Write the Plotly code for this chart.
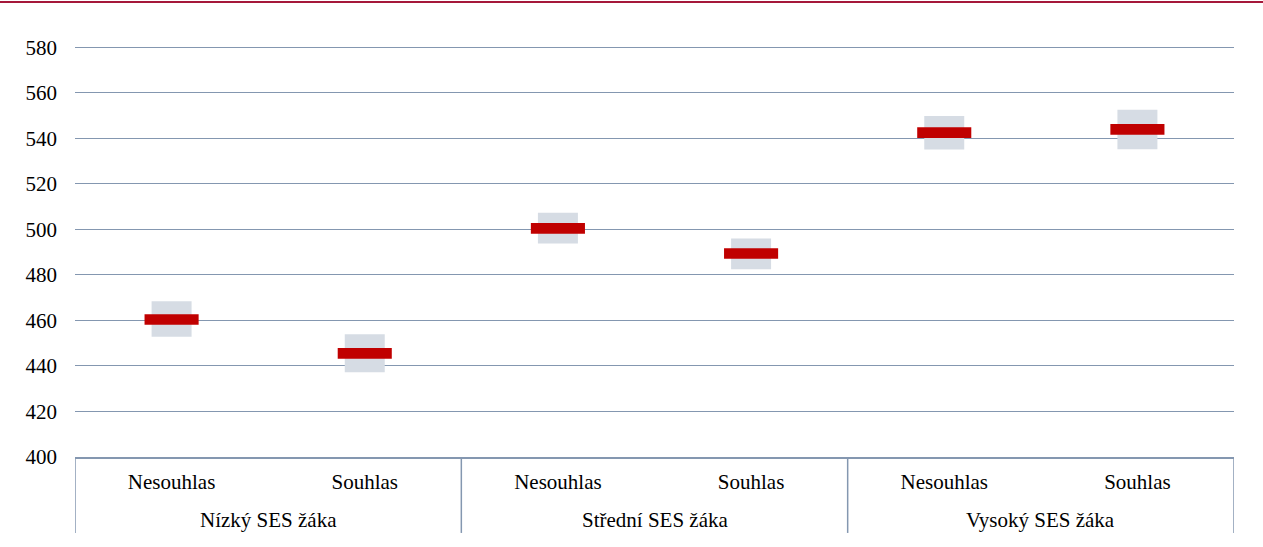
import plotly.graph_objects as go

groups = ["Nízký SES žáka", "Střední SES žáka", "Vysoký SES žáka"]
answers = ["Nesouhlas", "Souhlas", "Nesouhlas", "Souhlas", "Nesouhlas", "Souhlas"]
mean = [460.4, 445.5, 500.4, 489.4, 542.5, 543.9]
ci_low = [452.8, 437.2, 493.8, 482.5, 535.1, 535.2]
ci_high = [468.4, 453.9, 507.3, 496.0, 549.8, 552.6]
y_ticks = [400, 420, 440, 460, 480, 500, 520, 540, 560, 580]

grid_col = "#8497b0"
font_family = "Liberation Serif"
font_size = 21
mark_thick = 4.7

xpos = list(range(len(answers)))
n_sub = len(answers) // len(groups)

fig = go.Figure()
fig.add_trace(go.Bar(
    x=xpos,
    y=[h - l for h, l in zip(ci_high, ci_low)],
    base=ci_low,
    width=0.207,
    marker=dict(color="#d6dce4", line=dict(width=0)),
    hoverinfo="skip",
    showlegend=False,
))
fig.add_trace(go.Bar(
    x=xpos,
    y=[mark_thick] * len(mean),
    base=[m - mark_thick / 2 for m in mean],
    width=0.28,
    marker=dict(color="#c00000", line=dict(width=0)),
    customdata=mean,
    hovertemplate="%{customdata}<extra></extra>",
    showlegend=False,
))

y_top = 581
plot_h = 410.0 + (y_top - 580) * 410.0 / 180
top_px = 47 - (y_top - 580) * 410.0 / 180

shapes = [dict(type="line", xref="paper", yref="paper",
               x0=-75 / 1159, x1=1 + 29 / 1159,
               y0=1 + (top_px - 1.8) / plot_h, y1=1 + (top_px - 1.8) / plot_h,
               line=dict(color="#a5183a", width=2))]
for k in range(len(groups) + 1):
    xd = k * n_sub - 0.5
    shapes.append(dict(type="line", xref="x", yref="paper",
                       x0=xd, x1=xd, y0=0, y1=-76 / plot_h,
                       line=dict(color=grid_col, width=1.5)))

annotations = []
for gi, g in enumerate(groups):
    annotations.append(dict(xref="x", yref="paper",
                            x=gi * n_sub + (n_sub - 1) / 2, y=-63 / plot_h,
                            text=g, showarrow=False, yanchor="middle",
                            font=dict(family=font_family, size=font_size, color="#000000")))

fig.update_layout(
    width=1263, height=547,
    margin=dict(l=75, r=29, t=top_px, b=90),
    barmode="overlay",
    plot_bgcolor="white",
    paper_bgcolor="white",
    font=dict(family=font_family, size=font_size, color="#000000"),
    shapes=shapes,
    annotations=annotations,
)
fig.update_xaxes(
    range=[-0.5, len(answers) - 0.5],
    tickvals=xpos, ticktext=answers,
    showline=True, linecolor=grid_col, linewidth=1.5,
    showgrid=False, zeroline=False,
    tickfont=dict(family=font_family, size=font_size),
    ticks="",
    ticklabelstandoff=5,
)
fig.update_yaxes(
    range=[400, y_top],
    tickvals=y_ticks,
    showgrid=True, gridcolor=grid_col, gridwidth=1.2,
    zeroline=False,
    showline=False,
    tickfont=dict(family=font_family, size=font_size),
    ticklabelstandoff=17,
)

fig.write_html("out.html", config={"displayModeBar": False},
               post_script="document.body.style.margin='0';")
